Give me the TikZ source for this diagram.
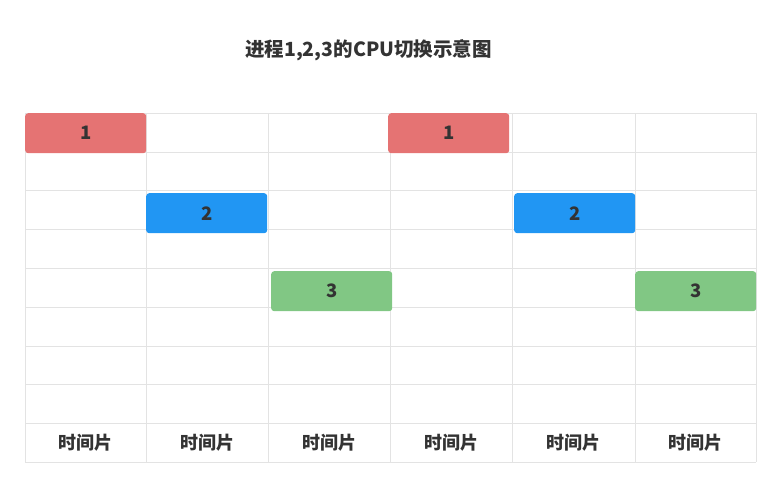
\documentclass[tikz,border=0pt]{standalone}
\usepackage{fontspec}
\setmainfont{Noto Sans CJK SC}
\definecolor{gridgray}{HTML}{E3E3E3}
\definecolor{txt}{HTML}{333333}
\definecolor{pred}{HTML}{E57373}
\definecolor{pblue}{HTML}{2196F3}
\definecolor{pgreen}{HTML}{81C784}
\begin{document}
\begin{tikzpicture}[x=1pt,y=-1pt,
  gridline/.style={draw=gridgray, line width=1pt},
  proc/.style={rounded corners=3pt, inner sep=0pt, anchor=north west,
    minimum width=121pt, minimum height=40pt, text=txt,
    font=\bfseries\fontsize{18.5}{18.5}\selectfont},
  p1/.style={proc, fill=pred},
  p2/.style={proc, fill=pblue},
  p3/.style={proc, fill=pgreen},
  slice/.style={text=txt, font=\bfseries\fontsize{18}{18}\selectfont, inner sep=0pt},
  titlestyle/.style={text=txt, font=\bfseries\fontsize{19.5}{19.5}\selectfont, inner sep=0pt}]
\useasboundingbox (0,0) rectangle (781,487);
\node[titlestyle] (title) at (368.5,50) {进程1,2,3的CPU切换示意图};
% grid
\foreach \y in {113,152,190,229,268,307,346,384,423,462}
  \draw[gridline] (25,\y) -- (756,\y);
\foreach \x in {25,146,268,390,512,635,756}
  \draw[gridline] (\x,113) -- (\x,462);
% process slots
\node[p1] (a1) at (25,113) {1};
\node[p2] (b1) at (146,193) {2};
\node[p3] (c1) at (271,271) {3};
\node[p1] (a2) at (388,113) {1};
\node[p2] (b2) at (514,193) {2};
\node[p3] (c2) at (635,271) {3};
% time slice labels
\node[slice] (t1) at (85.5,442.5) {时间片};
\node[slice] (t2) at (207,442.5) {时间片};
\node[slice] (t3) at (329,442.5) {时间片};
\node[slice] (t4) at (451,442.5) {时间片};
\node[slice] (t5) at (573.5,442.5) {时间片};
\node[slice] (t6) at (695.5,442.5) {时间片};
\end{tikzpicture}
\end{document}
